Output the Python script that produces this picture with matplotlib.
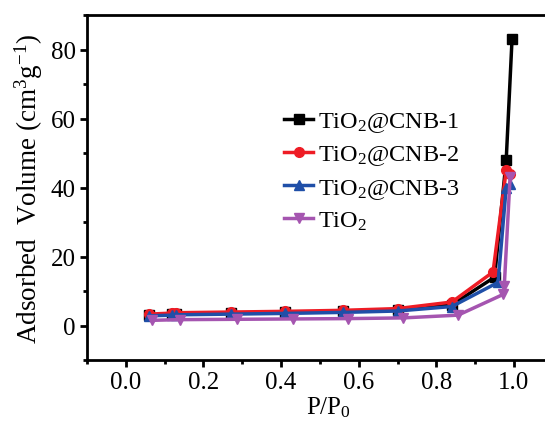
import matplotlib
matplotlib.use("Agg")
import matplotlib.pyplot as plt
from matplotlib.ticker import MultipleLocator

plt.rcParams['font.family'] = ['Liberation Serif', 'DejaVu Serif']
plt.rcParams['mathtext.fontset'] = 'custom'
plt.rcParams['mathtext.rm'] = 'Liberation Serif'
plt.rcParams['mathtext.it'] = 'Liberation Serif:italic'

x_cnb1 = [0.06, 0.12, 0.13, 0.27, 0.41, 0.56, 0.70, 0.84, 0.95, 0.98, 0.995]
y_cnb1 = [3.0, 3.2, 3.3, 3.6, 3.8, 4.1, 4.5, 6.0, 14.0, 48.0, 83.0]
x_cnb2 = [0.06, 0.12, 0.13, 0.27, 0.41, 0.56, 0.70, 0.84, 0.946, 0.98, 0.99]
y_cnb2 = [3.3, 3.6, 3.7, 3.9, 4.1, 4.4, 4.9, 6.8, 15.5, 45.0, 44.0]
x_cnb3 = [0.06, 0.12, 0.13, 0.27, 0.41, 0.56, 0.70, 0.84, 0.959, 0.98, 0.99]
y_cnb3 = [2.8, 3.0, 3.1, 3.3, 3.5, 3.8, 4.2, 5.5, 12.5, 40.0, 41.0]
x_tio2 = [0.067, 0.139, 0.286, 0.43, 0.572, 0.714, 0.856, 0.972, 0.975, 0.99]
y_tio2 = [1.5, 1.7, 1.8, 1.9, 2.0, 2.2, 3.0, 9.0, 11.5, 43.0]

labels = ['TiO$_2$@CNB-1', 'TiO$_2$@CNB-2', 'TiO$_2$@CNB-3', 'TiO$_2$']
colors = ['#000000', '#ee1c25', '#1f4fa8', '#a555b0']
markers = ['s', 'o', '^', 'v']

fig = plt.figure(figsize=(5.45, 4.27), dpi=100)
ax = fig.add_axes([87/545, 1-361/427, (570-87)/545, (361-16)/427])

series = [(x_cnb1, y_cnb1), (x_cnb2, y_cnb2), (x_cnb3, y_cnb3), (x_tio2, y_tio2)]
for (xs, ys), lab, c, m in zip(series, labels, colors, markers):
    ax.plot(xs, ys, color=c, marker=m, lw=2.5, ms=7, label=lab)

ax.set_xlim(-0.1, 1.0 + (570 - 514) / 388)
ax.set_ylim(-10, 90)
ax.xaxis.set_major_locator(MultipleLocator(0.2))
ax.xaxis.set_minor_locator(MultipleLocator(0.1))
ax.yaxis.set_major_locator(MultipleLocator(20))
ax.yaxis.set_minor_locator(MultipleLocator(10))
ax.set_xticks([0.0, 0.2, 0.4, 0.6, 0.8, 1.0])
ax.set_xticklabels(['0.0', '0.2', '0.4', '0.6', '0.8', '1.0'])
ax.tick_params(which='major', direction='out', length=5, width=2, labelsize=18, pad=3)
ax.tick_params(which='minor', direction='out', length=3, width=2)
for s in ax.spines.values():
    s.set_linewidth(2)

ax.set_xlabel('P/P$_0$', fontsize=18, labelpad=1)
ax.set_ylabel('Adsorbed  Volume (cm$^3$g$^{-1}$)', fontsize=19.5, labelpad=4)

ax.legend(loc='upper left', bbox_to_anchor=(0.388, 0.752), frameon=False, fontsize=17.5,
          handlelength=1.2, handletextpad=0.2, labelspacing=0.38, borderaxespad=0)

fig.savefig('out.png', dpi=100)
